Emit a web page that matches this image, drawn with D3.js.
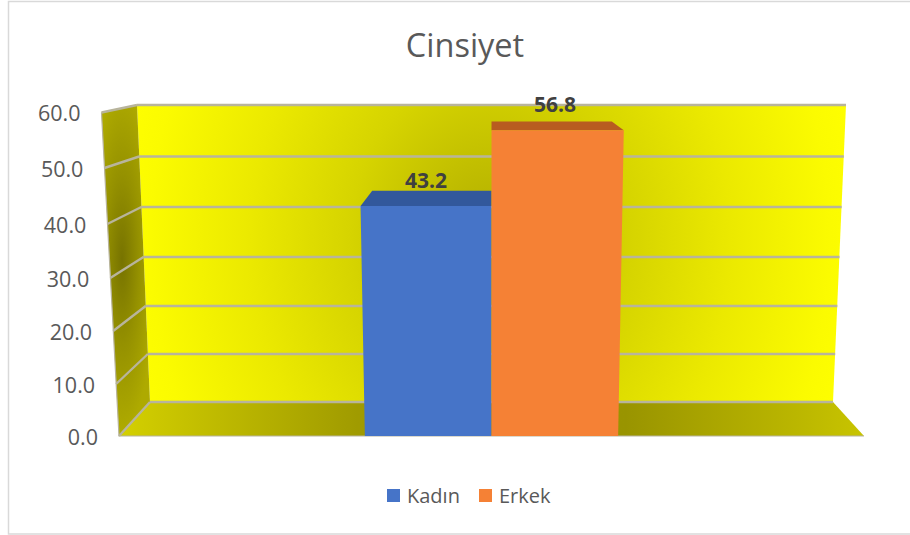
<!DOCTYPE html>
<html>
<head>
<meta charset="utf-8">
<script src="https://d3js.org/d3.v7.min.js"></script>
<style>
  html, body { margin: 0; padding: 0; background: #fff; }
  svg { display: block; }
  text { font-family: "Open Sans", sans-serif; }
</style>
</head>
<body>
<svg id="svg"></svg>
<script>
  const title = 'Cinsiyet';
  const seriesNames = ['Kadın', 'Erkek'];
  const seriesValues = [43.2, 56.8];
  const seriesColors = ['#4674c8', '#f58135'];
  const topColors = ['#32589c', '#b85c20'];
  const tickValues = [0, 10, 20, 30, 40, 50, 60];

  const width = 910;
  const height = 535;
  const cx = 491.5;

  const svg = d3.select('#svg').attr('width', width).attr('height', height);

  // depth 0 = front plane, depth 1 = back wall
  const yFront = d3.scaleLinear().domain(tickValues).range([436, 384, 331, 278, 224, 168, 112.5]);
  const yBack = d3.scaleLinear().domain(tickValues).range([402, 354, 306, 257, 207, 156.5, 105]);
  const halfFront = d3.scaleLinear().domain([0, 60]).range([372.5, 390]);
  const halfBack = d3.scaleLinear().domain([0, 60]).range([341.5, 354.5]);
  const xBand = d3.scaleBand().domain(seriesNames).range([-0.34, 0.34]);

  function pt(u, v, depth) {
    const half = depth ? halfBack(v) : halfFront(v);
    const y = depth ? yBack(v) : yFront(v);
    return [cx + u * half, y];
  }
  const poly = pts => 'M' + pts.map(p => p.join(',')).join('L') + 'Z';

  const defs = svg.append('defs');

  const wallGrad = defs.append('radialGradient').attr('id', 'wall')
    .attr('gradientUnits', 'userSpaceOnUse')
    .attr('cx', 0).attr('cy', 0).attr('r', 1)
    .attr('gradientTransform', 'translate(490,240) scale(400,480)');
  [[0, '#b0ac00'], [0.35, '#d6d400'], [0.6, '#ebe900'], [0.85, '#fbfb00'], [0.95, '#ffff00']]
    .forEach(s => wallGrad.append('stop').attr('offset', s[0]).attr('stop-color', s[1]));

  const sideGrad = defs.append('radialGradient').attr('id', 'side')
    .attr('gradientUnits', 'userSpaceOnUse')
    .attr('cx', 0).attr('cy', 0).attr('r', 1)
    .attr('gradientTransform', 'translate(122,260) scale(34,170)');
  [[0, '#777300'], [0.5, '#959100'], [1, '#aeaa00']]
    .forEach(s => sideGrad.append('stop').attr('offset', s[0]).attr('stop-color', s[1]));

  const floorGrad = defs.append('linearGradient').attr('id', 'floor')
    .attr('gradientUnits', 'userSpaceOnUse')
    .attr('x1', 119).attr('x2', 864).attr('y1', 0).attr('y2', 0);
  [[0, '#d4d000'], [0.32, '#a09b00'], [0.68, '#999400'], [1, '#c8c400']]
    .forEach(s => floorGrad.append('stop').attr('offset', s[0]).attr('stop-color', s[1]));

  // chart frame
  svg.append('rect')
    .attr('x', 8.5).attr('y', 1.5).attr('width', width + 10).attr('height', 532.5)
    .attr('fill', '#fff').attr('stroke', '#d9d9d9').attr('stroke-width', 1.5);

  svg.append('text')
    .attr('x', 465).attr('y', 57)
    .attr('text-anchor', 'middle')
    .attr('font-size', 32.5)
    .attr('fill', '#595959')
    .text(title);

  // walls and floor
  svg.append('path').attr('fill', 'url(#wall)')
    .attr('d', poly([pt(-1, 0, 1), pt(-1, 60, 1), pt(1, 60, 1), pt(1, 0, 1)]));
  svg.append('path').attr('fill', 'url(#side)')
    .attr('d', poly([pt(-1, 0, 0), pt(-1, 60, 0), pt(-1, 60, 1), pt(-1, 0, 1)]));
  svg.append('path').attr('fill', 'url(#floor)')
    .attr('d', poly([pt(-1, 0, 0), pt(-1, 0, 1), pt(1, 0, 1), pt(1, 0, 0)]));

  // gridlines, back wall and side wall
  const grid = svg.append('g')
    .attr('fill', 'none').attr('stroke', '#b8b49c').attr('stroke-width', 2.4);
  grid.selectAll('.back').data(tickValues).join('line').attr('class', 'back')
    .attr('x1', d => pt(-1, d, 1)[0]).attr('y1', d => pt(-1, d, 1)[1])
    .attr('x2', d => pt(1, d, 1)[0]).attr('y2', d => pt(1, d, 1)[1]);
  grid.selectAll('.side').data(tickValues).join('line').attr('class', 'side')
    .attr('x1', d => pt(-1, d, 0)[0]).attr('y1', d => pt(-1, d, 0)[1])
    .attr('x2', d => pt(-1, d, 1)[0]).attr('y2', d => pt(-1, d, 1)[1]);
  grid.append('path')
    .attr('stroke-width', 1.2)
    .attr('d', 'M' + pt(-1, 60, 0) + 'L' + pt(-1, 0, 0) + 'L' + pt(1, 0, 0));

  // bars
  const bars = svg.append('g').selectAll('g')
    .data(seriesNames.map((name, i) => ({ name, value: seriesValues[i], i })))
    .join('g');
  const edges = d => [xBand(d.name), xBand(d.name) + xBand.bandwidth()];

  bars.append('path')
    .attr('fill', d => topColors[d.i])
    .attr('d', d => {
      const [a, b] = edges(d);
      return poly([pt(a, d.value, 0), pt(a, d.value, 1), pt(b, d.value, 1), pt(b, d.value, 0)]);
    });
  bars.append('path')
    .attr('fill', d => seriesColors[d.i])
    .attr('d', d => {
      const [a, b] = edges(d);
      return poly([pt(a, 0, 0), pt(a, d.value, 0), pt(b, d.value, 0), pt(b, 0, 0)]);
    });

  // value labels
  bars.append('text')
    .attr('x', d => d.i ? 555 : 426)
    .attr('y', d => yFront(d.value) - 18)
    .attr('text-anchor', 'middle')
    .attr('font-size', 21)
    .attr('font-weight', 700)
    .attr('fill', '#404040')
    .text(d => d.value.toFixed(1));

  // value axis labels follow the slanted front edge
  svg.append('g').selectAll('text').data(tickValues).join('text')
    .attr('x', d => pt(-1, d, 0)[0] - 21)
    .attr('y', d => yFront(d) + 8.5)
    .attr('text-anchor', 'end')
    .attr('font-size', 21.5)
    .attr('fill', '#595959')
    .text(d => d.toFixed(1));

  // legend
  const legendX = d3.scaleOrdinal().domain(seriesNames).range([387, 479]);
  const legend = svg.append('g').selectAll('g').data(seriesNames).join('g')
    .attr('transform', d => `translate(${legendX(d)},489)`);
  legend.append('rect')
    .attr('width', 13).attr('height', 13)
    .attr('fill', (d, i) => seriesColors[i]);
  legend.append('text')
    .attr('x', 20).attr('y', 14)
    .attr('font-size', 20)
    .attr('fill', '#595959')
    .text(d => d);
</script>
</body>
</html>
